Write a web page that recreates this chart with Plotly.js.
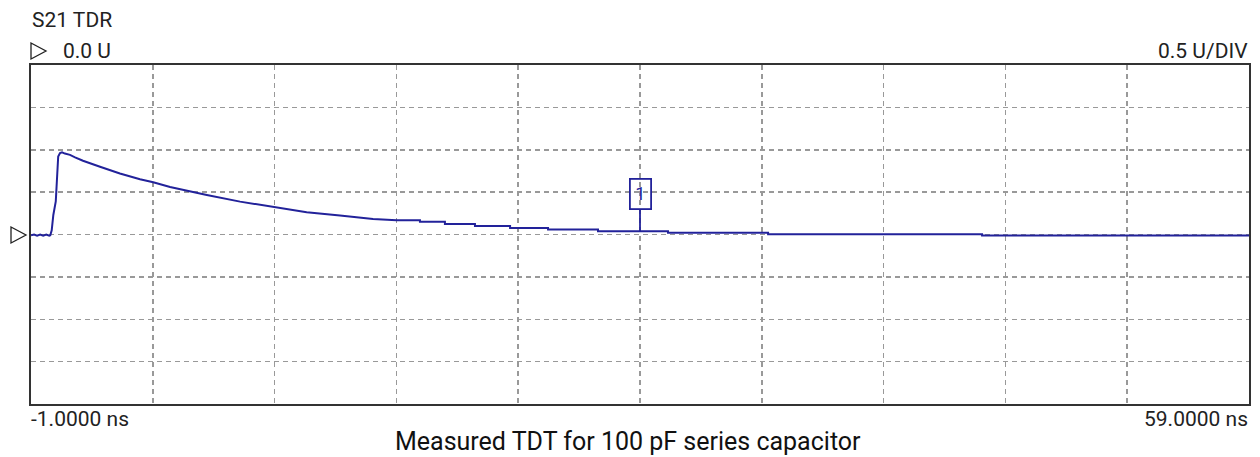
<!DOCTYPE html>
<html>
<head>
<meta charset="utf-8">
<script src="https://cdn.plot.ly/plotly-3.0.1.min.js"></script>
<style>html,body{margin:0;padding:0;background:#fff;}#chart{width:1260px;height:457px;}</style>
</head>
<body>
<div id="chart"></div>
<script>
// Time axis (ns) and S21 TDR response (U)
const timeNs = [-1.0, -0.85, -0.7, -0.55, -0.4, -0.25, -0.1, -0.05, 0.02, 0.10, 0.22, 0.30, 0.34, 0.43, 0.53, 0.67, 0.92, 1.17, 1.56, 2.40, 3.38, 4.37, 5.02, 5.85, 6.83, 7.66, 9.30, 11.02, 12.58, 14.22, 15.85, 17.01, 18.16, 18.16, 19.39, 19.39, 20.87, 20.87, 22.60, 22.60, 24.47, 24.47, 26.93, 26.93, 30.38, 30.38, 35.31, 35.31, 45.85, 45.85, 59.0];
const tdrU   = [-0.01, 0.0, -0.015, 0.0, -0.015, 0.0, -0.015, -0.01, 0.05, 0.23, 0.39, 0.78, 0.92, 0.96, 0.97, 0.955, 0.94, 0.91, 0.87, 0.80, 0.72, 0.652, 0.617, 0.56, 0.506, 0.467, 0.388, 0.322, 0.263, 0.223, 0.184, 0.168, 0.168, 0.149, 0.149, 0.125, 0.125, 0.101, 0.101, 0.078, 0.078, 0.058, 0.058, 0.039, 0.039, 0.022, 0.022, 0.004, 0.004, -0.013, -0.013];

// Marker 1
const markerLabel = ['1'];
const markerTime = [29.0];
const markerValue = [0.039];

// Axis settings / texts
const xRange = [-1, 59];
const yRange = [-2, 2];
const xStartLabel = '-1.0000 ns';
const xEndLabel = '59.0000 ns';
const traceName = 'S21 TDR';
const refLabel = '0.0 U';
const scaleLabel = '0.5 U/DIV';
const chartTitle = 'Measured TDT for 100 pF series capacitor';

const blue = '#22229a';
const hdrFont = {family: 'Roboto, sans-serif', size: 21, color: '#222'};

const trace = {
  x: timeNs, y: tdrU, type: 'scatter', mode: 'lines',
  line: {color: blue, width: 2}, hoverinfo: 'skip'
};

// plot area in px: x 31..1249, y 65..404
const W = 1218, H = 339;
function px2x(p){ return (p - 31) / W; }
function py2y(p){ return (404 - p) / H; }
function tri(xl, yc){
  const x0 = px2x(xl), x1 = px2x(xl + 15), y0 = py2y(yc - 8), y1 = py2y(yc + 8), ym = py2y(yc);
  return {type: 'path', xref: 'paper', yref: 'paper',
    path: `M ${x0} ${y0} L ${x1} ${ym} L ${x0} ${y1} Z`,
    line: {color: '#222', width: 1.3}, fillcolor: 'rgba(0,0,0,0)'};
}

const layout = {
  width: 1260, height: 457,
  margin: {l: 31, r: 11, t: 65, b: 53},
  paper_bgcolor: '#fff', plot_bgcolor: '#fff',
  showlegend: false,
  xaxis: {range: xRange, dtick: 6, tick0: -1, showticklabels: false, ticks: '',
    showgrid: true, gridcolor: '#999', gridwidth: 1.5, griddash: '5px,4px',
    zeroline: false, showline: true, mirror: true, linecolor: '#333', linewidth: 2, fixedrange: true},
  yaxis: {range: yRange, dtick: 0.5, showticklabels: false, ticks: '',
    showgrid: true, gridcolor: '#999', gridwidth: 1.5, griddash: '5px,4px',
    zeroline: false, showline: true, mirror: true, linecolor: '#333', linewidth: 2, fixedrange: true},
  shapes: [tri(11, 235), tri(31, 51)],
  annotations: [
    {text: traceName, xref: 'paper', yref: 'paper', x: px2x(30), y: py2y(20), xanchor: 'left', yanchor: 'middle', showarrow: false, font: hdrFont},
    {text: refLabel, xref: 'paper', yref: 'paper', x: px2x(61), y: py2y(51), xanchor: 'left', yanchor: 'middle', showarrow: false, font: hdrFont},
    {text: scaleLabel, xref: 'paper', yref: 'paper', x: px2x(1250), y: py2y(51), xanchor: 'right', yanchor: 'middle', showarrow: false, font: hdrFont},
    {text: xStartLabel, xref: 'paper', yref: 'paper', x: px2x(29), y: py2y(419), xanchor: 'left', yanchor: 'middle', showarrow: false, font: hdrFont},
    {text: xEndLabel, xref: 'paper', yref: 'paper', x: px2x(1250), y: py2y(419), xanchor: 'right', yanchor: 'middle', showarrow: false, font: hdrFont},
    {text: chartTitle, xref: 'paper', yref: 'paper', x: px2x(628), y: py2y(441), xanchor: 'center', yanchor: 'middle', showarrow: false,
      font: {family: 'Roboto, sans-serif', size: 25, color: '#111'}},
    {text: markerLabel[0], x: markerTime[0], y: markerValue[0], xref: 'x', yref: 'y',
      showarrow: true, arrowhead: 0, arrowwidth: 1.8, arrowcolor: blue, ax: 0, ay: -37,
      bordercolor: blue, borderwidth: 1.8, borderpad: 1, width: 17, height: 26, bgcolor: 'rgba(0,0,0,0)',
      font: {family: 'Roboto, sans-serif', size: 18, color: blue}}
  ]
};

Plotly.newPlot('chart', [trace], layout, {displayModeBar: false, staticPlot: true});
</script>
</body>
</html>
